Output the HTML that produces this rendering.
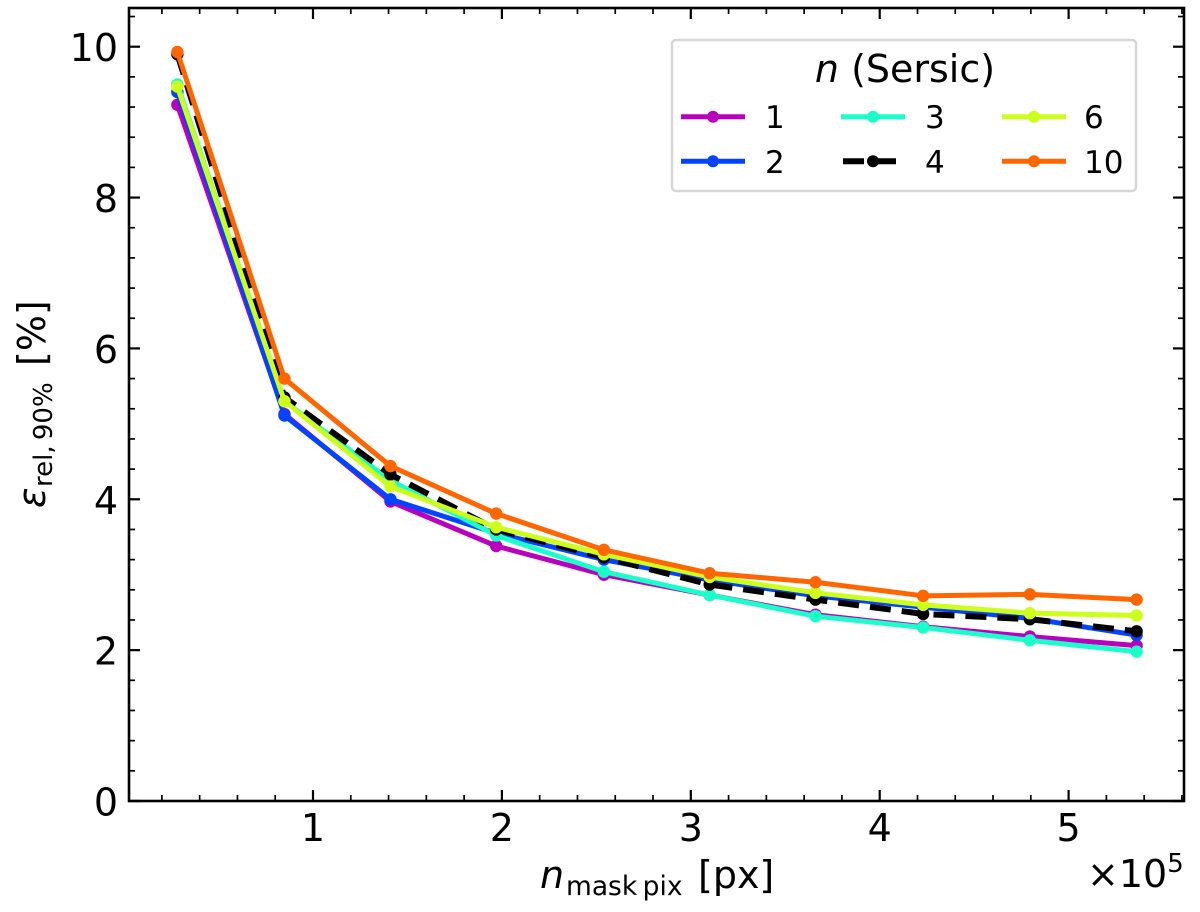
<!DOCTYPE html>
<html lang="en">
<head>
<meta charset="utf-8">
<title>Relative error vs mask pixels</title>
<style>
html,body{margin:0;padding:0;background:#fff;width:1200px;height:912px;overflow:hidden}
svg{display:block}
text{font-family:"DejaVu Sans","Liberation Sans",sans-serif;fill:#000}
</style>
</head>
<body>
<svg id="chart" xmlns="http://www.w3.org/2000/svg" width="1200" height="912" viewBox="0 0 1200 912">
  <rect x="0" y="0" width="1200" height="912" fill="#fff"/>
  <g id="marks"></g>
  <rect x="129" y="8" width="1055" height="793" fill="none" stroke="#000" stroke-width="2.6"/>
  <g id="ticks"></g>
  <text y="888" font-size="38"><tspan x="540" font-style="italic">n</tspan><tspan x="566" y="895" font-size="26.5" word-spacing="-3">mask pix</tspan><tspan x="698" y="888">[px]</tspan></text>
  <text x="1087" y="887" font-size="38">×10<tspan font-size="26" y="872">5</tspan></text>
  <text transform="translate(45,507) rotate(-90)" font-size="38"><tspan x="-1" y="0" font-style="italic">ε</tspan><tspan x="20" y="7" font-size="26" word-spacing="-3">rel, 90%</tspan><tspan x="141" y="0">[%]</tspan></text>
  <g id="legend">
    <rect x="672" y="40" width="464" height="151" rx="4" fill="#fff" fill-opacity="0.9" stroke="#d6d6d6" stroke-width="2.5"/>
    <text x="905" y="82" font-size="38" text-anchor="middle"><tspan font-style="italic">n</tspan> (Sersic)</text>
  </g>
</svg>
<script>
const xValues = [0.282, 0.849, 1.41, 1.97, 2.54, 3.10, 3.66, 4.23, 4.795, 5.36];
const series1 = [9.23, 5.13, 3.97, 3.38, 3.00, 2.73, 2.47, 2.31, 2.18, 2.06];
const series2 = [9.40, 5.11, 4.00, 3.55, 3.20, 2.93, 2.72, 2.57, 2.42, 2.20];
const series3 = [9.50, 5.30, 4.25, 3.52, 3.04, 2.73, 2.45, 2.30, 2.13, 1.98];
const series4 = [9.90, 5.35, 4.33, 3.60, 3.23, 2.87, 2.67, 2.48, 2.41, 2.25];
const series6 = [9.47, 5.30, 4.17, 3.63, 3.27, 2.97, 2.76, 2.60, 2.49, 2.46];
const series10 = [9.93, 5.60, 4.44, 3.81, 3.33, 3.02, 2.90, 2.72, 2.74, 2.67];
const seriesLabels = ['1', '2', '3', '4', '6', '10'];
const xTickLabels = [1, 2, 3, 4, 5];
const yTickLabels = [0, 2, 4, 6, 8, 10];

const allSeries = [series1, series2, series3, series4, series6, series10];
const seriesColors = ['#b900bf', '#0044ff', '#1affc9', '#000000', '#ccff1a', '#ff6600'];

const NS = 'http://www.w3.org/2000/svg';
const xScale = v => 313 + (v - 1) * 188.9;
const yScale = v => 801 - v * 75.43;
const marks = document.getElementById('marks');
const ticks = document.getElementById('ticks');
const legend = document.getElementById('legend');

function lineEl(x1, y1, x2, y2, w) {
  const l = document.createElementNS(NS, 'line');
  l.setAttribute('x1', x1);
  l.setAttribute('y1', y1);
  l.setAttribute('x2', x2);
  l.setAttribute('y2', y2);
  l.setAttribute('stroke', '#000');
  l.setAttribute('stroke-width', w);
  return l;
}

// x ticks
for (let v = 0.2; v < 5.61; v += 0.2) {
  const rounded = Math.round(v * 10) / 10;
  const major = xTickLabels.includes(rounded);
  const len = major ? 11 : 6;
  const w = major ? 2.2 : 1.7;
  const px = xScale(rounded);
  const bottom = lineEl(px, 801, px, 801 - len, w);
  
  
  ticks.appendChild(bottom);
  const top = lineEl(px, 8, px, 8 + len, w);
  
  
  ticks.appendChild(top);
}
// y ticks
for (let v = 0; v < 10.5; v += 0.4) {
  const rounded = Math.round(v * 10) / 10;
  const major = yTickLabels.includes(rounded);
  const len = major ? 11 : 6;
  const w = major ? 2.2 : 1.7;
  const py = yScale(rounded);
  const left = lineEl(129, py, 129 + len, py, w);
  
  
  ticks.appendChild(left);
  const right = lineEl(1184, py, 1184 - len, py, w);
  
  
  ticks.appendChild(right);
}
xTickLabels.forEach(v => {
  const t = document.createElementNS(NS, 'text');
  
  
  t.setAttribute('x', xScale(v));
  t.setAttribute('y', 841);
  t.setAttribute('font-size', 38);
  t.setAttribute('text-anchor', 'middle');
  t.textContent = v;
  ticks.appendChild(t);
});
yTickLabels.forEach(v => {
  const t = document.createElementNS(NS, 'text');
  
  
  t.setAttribute('x', 118);
  t.setAttribute('y', yScale(v) + 14.5);
  t.setAttribute('font-size', 38);
  t.setAttribute('text-anchor', 'end');
  t.textContent = v;
  ticks.appendChild(t);
});

// series
allSeries.forEach((vals, i) => {
  const dashed = seriesLabels[i] === '4';
  const p = document.createElementNS(NS, 'polyline');
  
  
  p.setAttribute('points', vals.map((v, j) => xScale(xValues[j]) + ',' + yScale(v)).join(' '));
  p.setAttribute('fill', 'none');
  p.setAttribute('stroke', seriesColors[i]);
  p.setAttribute('stroke-width', dashed ? 6 : 5);
  p.setAttribute('stroke-linejoin', 'round');
  if (dashed) p.setAttribute('stroke-dasharray', '21 11');
  marks.appendChild(p);
  vals.forEach((v, j) => {
    const c = document.createElementNS(NS, 'circle');
    
    
    c.setAttribute('cx', xScale(xValues[j]));
    c.setAttribute('cy', yScale(v));
    c.setAttribute('r', 6.2);
    c.setAttribute('fill', seriesColors[i]);
    marks.appendChild(c);
  });
});

// legend entries
const legendCols = [681, 841, 1002];
const legendLabelX = [765, 925, 1084];
const legendRows = [116.7, 161.3];
seriesLabels.forEach((label, i) => {
  const col = Math.floor(i / 2);
  const row = i % 2;
  const x0 = legendCols[col];
  const y0 = legendRows[row];
  const dashed = label === '4';
  const g = document.createElementNS(NS, 'g');
  
  
  const l = document.createElementNS(NS, 'line');
  
  
  l.setAttribute('x1', x0 + (dashed ? 2 : 0));
  l.setAttribute('x2', x0 + (dashed ? 56 : 64));
  l.setAttribute('y1', y0);
  l.setAttribute('y2', y0);
  l.setAttribute('stroke', seriesColors[i]);
  l.setAttribute('stroke-width', dashed ? 6 : 5);
  if (dashed) l.setAttribute('stroke-dasharray', '21 11');
  g.appendChild(l);
  const c = document.createElementNS(NS, 'circle');
  
  
  c.setAttribute('cx', x0 + 32);
  c.setAttribute('cy', y0);
  c.setAttribute('r', 6);
  c.setAttribute('fill', seriesColors[i]);
  g.appendChild(c);
  const t = document.createElementNS(NS, 'text');
  
  
  t.setAttribute('x', legendLabelX[col]);
  t.setAttribute('y', y0 + 11.5);
  t.setAttribute('font-size', 31);
  t.textContent = label;
  g.appendChild(t);
  legend.appendChild(g);
});
</script>
</body>
</html>
